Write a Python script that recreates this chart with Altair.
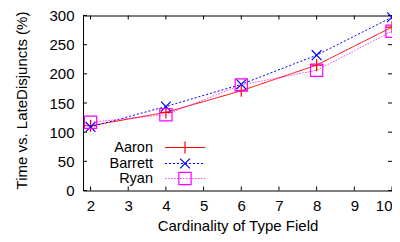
import altair as alt
import pandas as pd

x_vals = [2, 4, 6, 8, 10]
aaron = [111, 134, 171, 215, 280]
barrett = [109, 144, 182, 232, 297]
ryan = [117, 130, 181, 206, 273]
series = ["Aaron", "Barrett", "Ryan"]
colors = ["#ff0000", "#0000ff", "#ff00ff"]
x_ticks = [2, 3, 4, 5, 6, 7, 8, 9, 10]
y_ticks = [0, 50, 100, 150, 200, 250, 300]

W, H = 309, 175
FONT = "Liberation Sans"
FS = 15
LFS = 14.5

rows = []
for name, vals in zip(series, [aaron, barrett, ryan]):
    for x, y in zip(x_vals, vals):
        rows.append({"series": name, "x": x, "y": y})
df = pd.DataFrame(rows)

xs = alt.Scale(domain=[1.8, 10], nice=False, zero=False)
ys = alt.Scale(domain=[0, 300], nice=False)

dashes = {"Aaron": [1, 0], "Barrett": [2, 2], "Ryan": [1.5, 1.5]}
shapes = {
    "Aaron": "M-1,0L1,0M0,-1L0,1",
    "Barrett": "M-0.8,-0.8L0.8,0.8M-0.8,0.8L0.8,-0.8",
    "Ryan": "square",
}

axis_common = dict(tickSize=0, domain=False, grid=False, labelFontSize=FS, titleFontSize=FS,
                   labelFont=FONT, titleFont=FONT, titleFontWeight="normal",
                   labelColor="black", titleColor="black", labelOverlap=False)
x_axis = alt.Axis(values=x_ticks, labelPadding=8, titlePadding=5, **axis_common)
y_axis = alt.Axis(values=y_ticks, labelPadding=9, titleX=-54, titleY=H / 2 - 3, **axis_common)
X_TITLE = "Cardinality of Type Field"
Y_TITLE = "Time vs. LateDisjuncts (%)"


def X(field):
    return alt.X(field, scale=xs, axis=x_axis, title=X_TITLE)


def Y(field):
    return alt.Y(field, scale=ys, axis=y_axis, title=Y_TITLE)


layers = []
layers.append(alt.Chart(df).mark_point(opacity=0).encode(x=X("x:Q"), y=Y("y:Q")))

xt = pd.DataFrame({"v": x_ticks})
yt = pd.DataFrame({"v": y_ticks})
tl = 4
layers.append(alt.Chart(xt).mark_rule(color="black").encode(
    x=X("v:Q"), y=alt.value(H), y2=alt.value(H - tl)))
layers.append(alt.Chart(xt).mark_rule(color="black").encode(
    x=X("v:Q"), y=alt.value(0), y2=alt.value(tl)))
layers.append(alt.Chart(yt).mark_rule(color="black").encode(
    y=Y("v:Q"), x=alt.value(0), x2=alt.value(tl)))
layers.append(alt.Chart(yt).mark_rule(color="black").encode(
    y=Y("v:Q"), x=alt.value(W), x2=alt.value(W - tl)))

for name, col in zip(series, colors):
    d = df[df.series == name]
    op = 0.75 if name == "Ryan" else 1.0
    layers.append(alt.Chart(d).mark_line(color=col, strokeWidth=1, strokeDash=dashes[name], opacity=op).encode(
        x=X("x:Q"), y=Y("y:Q")))
    layers.append(alt.Chart(d).mark_point(shape=shapes[name], color=col, filled=False, size=150,
                                          strokeWidth=1.2, opacity=1).encode(
        x=X("x:Q"), y=Y("y:Q")))

# legend
leg_rows = [132, 148, 163]
for name, col, ry in zip(series, colors, leg_rows):
    ld = pd.DataFrame({"label": [name]})
    op = 0.75 if name == "Ryan" else 1.0
    layers.append(alt.Chart(ld).mark_text(align="right", baseline="middle", font=FONT, fontSize=LFS,
                                          color="black").encode(
        text="label:N", x=alt.value(70), y=alt.value(ry)))
    layers.append(alt.Chart(ld).mark_rule(color=col, strokeWidth=1, strokeDash=dashes[name], opacity=op).encode(
        x=alt.value(82), x2=alt.value(122), y=alt.value(ry)))
    layers.append(alt.Chart(ld).mark_point(shape=shapes[name], color=col, filled=False, size=150,
                                           strokeWidth=1.2, opacity=1).encode(
        x=alt.value(102), y=alt.value(ry)))

chart = alt.layer(*layers).properties(
    width=W, height=H,
    autosize=alt.AutoSizeParams(type="none"),
    padding={"left": 75, "top": 7.5, "right": 0, "bottom": 43.5},
).configure_view(stroke="black", strokeWidth=1)

chart.save("out.html", embed_options={"renderer": "svg", "actions": False})
